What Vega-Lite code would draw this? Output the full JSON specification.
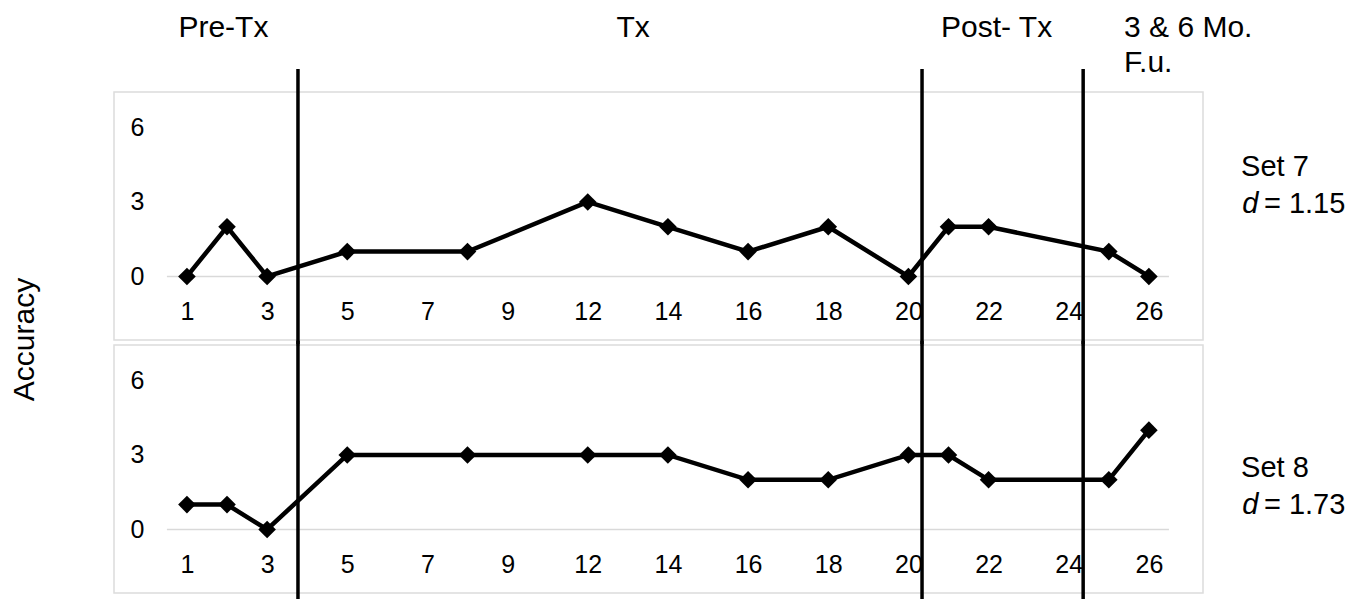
{
  "$schema": "https://vega.github.io/schema/vega-lite/v6.json",
  "background": "white",
  "autosize": {"type": "pad"},
  "padding": {"left": 9, "top": 12, "right": 0, "bottom": 0},
  "spacing": 5,
  "bounds": "flush",
  "config": {
    "font": "Liberation Sans",
    "view": {"stroke": "#dcdcdc", "strokeWidth": 1.5},
    "text": {"font": "Liberation Sans", "color": "#000"}
  },
  "datasets": {
    "accuracy": [
      {"set": "Set 7", "session": 1, "obs": 1, "accuracy": 0},
      {"set": "Set 7", "session": 2, "obs": 2, "accuracy": 2},
      {"set": "Set 7", "session": 3, "obs": 3, "accuracy": 0},
      {"set": "Set 7", "session": 5, "obs": 5, "accuracy": 1},
      {"set": "Set 7", "session": 8, "obs": 8, "accuracy": 1},
      {"set": "Set 7", "session": 12, "obs": 11, "accuracy": 3},
      {"set": "Set 7", "session": 14, "obs": 13, "accuracy": 2},
      {"set": "Set 7", "session": 16, "obs": 15, "accuracy": 1},
      {"set": "Set 7", "session": 18, "obs": 17, "accuracy": 2},
      {"set": "Set 7", "session": 20, "obs": 19, "accuracy": 0},
      {"set": "Set 7", "session": 21, "obs": 20, "accuracy": 2},
      {"set": "Set 7", "session": 22, "obs": 21, "accuracy": 2},
      {"set": "Set 7", "session": 25, "obs": 24, "accuracy": 1},
      {"set": "Set 7", "session": 26, "obs": 25, "accuracy": 0},
      {"set": "Set 8", "session": 1, "obs": 1, "accuracy": 1},
      {"set": "Set 8", "session": 2, "obs": 2, "accuracy": 1},
      {"set": "Set 8", "session": 3, "obs": 3, "accuracy": 0},
      {"set": "Set 8", "session": 5, "obs": 5, "accuracy": 3},
      {"set": "Set 8", "session": 8, "obs": 8, "accuracy": 3},
      {"set": "Set 8", "session": 12, "obs": 11, "accuracy": 3},
      {"set": "Set 8", "session": 14, "obs": 13, "accuracy": 3},
      {"set": "Set 8", "session": 16, "obs": 15, "accuracy": 2},
      {"set": "Set 8", "session": 18, "obs": 17, "accuracy": 2},
      {"set": "Set 8", "session": 20, "obs": 19, "accuracy": 3},
      {"set": "Set 8", "session": 21, "obs": 20, "accuracy": 3},
      {"set": "Set 8", "session": 22, "obs": 21, "accuracy": 2},
      {"set": "Set 8", "session": 25, "obs": 24, "accuracy": 2},
      {"set": "Set 8", "session": 26, "obs": 25, "accuracy": 4}
    ],
    "phaseChanges": [
      {"between": "3 and 5", "obs": 3.77},
      {"between": "20 and 21", "obs": 19.34},
      {"between": "24 and 25", "obs": 23.36}
    ],
    "phaseNames": [
      {"phase": "Pre-Tx", "obs": 1.91},
      {"phase": "Tx", "obs": 12.13},
      {"phase": "Post- Tx", "obs": 21.2}
    ],
    "axisLine": [{"start": 0.5, "end": 25.5, "level": 0}]
  },
  "vconcat": [
    {
      "width": 1089,
      "height": 248,
      "layer": [
        {
          "data": {"name": "axisLine"},
          "mark": {"type": "rule", "color": "#d9d9d9", "strokeWidth": 1.5},
          "encoding": {
            "x": {"field": "start", "type": "quantitative", "title": null, "scale": {"domain": [-0.82, 26.35], "nice": false, "zero": false},
              "axis": {"values": [1, 3, 5, 7, 9, 11, 13, 15, 17, 19, 21, 23, 25], "labelExpr": "datum.value <= 9 ? datum.value : datum.value + 1", "offset": -41, "title": null, "grid": false, "domain": false, "ticks": false, "labelPadding": 0, "labelFontSize": 25, "labelColor": "#000", "labelFont": "Liberation Sans", "labelFlush": false, "labelOverlap": false}},
            "x2": {"field": "end"},
            "y": {"field": "level", "type": "quantitative", "title": null, "scale": {"domain": [-2.56, 7.43], "nice": false, "zero": false},
              "axis": {"values": [0, 3, 6], "offset": -30, "title": null, "grid": false, "domain": false, "ticks": false, "labelPadding": 0, "labelFontSize": 25, "labelColor": "#000", "labelFont": "Liberation Sans"}}
          }
        },
        {
          "data": {"name": "accuracy"},
          "transform": [{"filter": "datum.set === 'Set 7'"}],
          "mark": {"type": "line", "color": "#000", "strokeWidth": 4.5, "point": {"shape": "diamond", "size": 310, "filled": true, "color": "#000", "opacity": 1}},
          "encoding": {
            "x": {"field": "obs", "type": "quantitative", "title": null},
            "y": {"field": "accuracy", "type": "quantitative", "title": null}
          }
        },
        {
          "data": {"name": "phaseChanges"},
          "mark": {"type": "rule", "color": "#000", "strokeWidth": 3.5},
          "encoding": {
            "x": {"field": "obs", "type": "quantitative", "title": null},
            "y": {"datum": 8.36, "type": "quantitative", "title": null},
            "y2": {"datum": -2.8}
          }
        },
        {
          "data": {"name": "phaseNames"},
          "mark": {"type": "text", "fontSize": 30, "align": "center", "baseline": "alphabetic"},
          "encoding": {
            "x": {"field": "obs", "type": "quantitative", "title": null},
            "y": {"datum": 9.63, "type": "quantitative", "title": null},
            "text": {"field": "phase"}
          }
        },
        {
          "data": {"values": [{"phase": ["3 & 6 Mo.", "F.u."]}]},
          "mark": {"type": "text", "fontSize": 30, "align": "left", "baseline": "alphabetic", "lineHeight": 35},
          "encoding": {
            "x": {"datum": 24.38, "type": "quantitative", "title": null},
            "y": {"datum": 9.63, "type": "quantitative", "title": null},
            "text": {"field": "phase"}
          }
        },
        {
          "data": {"values": [{"label": "Accuracy"}]},
          "mark": {"type": "text", "fontSize": 30, "align": "center", "baseline": "alphabetic", "angle": 270},
          "encoding": {
            "x": {"datum": -2.82, "type": "quantitative", "title": null},
            "y": {"datum": -2.54, "type": "quantitative", "title": null},
            "text": {"field": "label"}
          }
        },
        {
          "data": {"values": [{"label": "Set 7"}]},
          "mark": {"type": "text", "fontSize": 29, "align": "left", "baseline": "alphabetic"},
          "encoding": {
            "x": {"datum": 27.3, "type": "quantitative", "title": null},
            "y": {"datum": 4.05, "type": "quantitative", "title": null},
            "text": {"field": "label"}
          }
        },
        {
          "data": {"values": [{"label": "d"}]},
          "mark": {"type": "text", "fontSize": 29, "align": "right", "baseline": "alphabetic", "fontStyle": "italic"},
          "encoding": {
            "x": {"datum": 27.73, "type": "quantitative", "title": null},
            "y": {"datum": 2.57, "type": "quantitative", "title": null},
            "text": {"field": "label"}
          }
        },
        {
          "data": {"values": [{"label": "= 1.15"}]},
          "mark": {"type": "text", "fontSize": 29, "align": "left", "baseline": "alphabetic"},
          "encoding": {
            "x": {"datum": 27.87, "type": "quantitative", "title": null},
            "y": {"datum": 2.57, "type": "quantitative", "title": null},
            "text": {"field": "label"}
          }
        }
      ]
    },
    {
      "width": 1089,
      "height": 248,
      "layer": [
        {
          "data": {"name": "axisLine"},
          "mark": {"type": "rule", "color": "#d9d9d9", "strokeWidth": 1.5},
          "encoding": {
            "x": {"field": "start", "type": "quantitative", "title": null, "scale": {"domain": [-0.82, 26.35], "nice": false, "zero": false},
              "axis": {"values": [1, 3, 5, 7, 9, 11, 13, 15, 17, 19, 21, 23, 25], "labelExpr": "datum.value <= 9 ? datum.value : datum.value + 1", "offset": -41, "title": null, "grid": false, "domain": false, "ticks": false, "labelPadding": 0, "labelFontSize": 25, "labelColor": "#000", "labelFont": "Liberation Sans", "labelFlush": false, "labelOverlap": false}},
            "x2": {"field": "end"},
            "y": {"field": "level", "type": "quantitative", "title": null, "scale": {"domain": [-2.56, 7.43], "nice": false, "zero": false},
              "axis": {"values": [0, 3, 6], "offset": -30, "title": null, "grid": false, "domain": false, "ticks": false, "labelPadding": 0, "labelFontSize": 25, "labelColor": "#000", "labelFont": "Liberation Sans"}}
          }
        },
        {
          "data": {"name": "accuracy"},
          "transform": [{"filter": "datum.set === 'Set 8'"}],
          "mark": {"type": "line", "color": "#000", "strokeWidth": 4.5, "point": {"shape": "diamond", "size": 310, "filled": true, "color": "#000", "opacity": 1}},
          "encoding": {
            "x": {"field": "obs", "type": "quantitative", "title": null},
            "y": {"field": "accuracy", "type": "quantitative", "title": null}
          }
        },
        {
          "data": {"name": "phaseChanges"},
          "mark": {"type": "rule", "color": "#000", "strokeWidth": 3.5},
          "encoding": {
            "x": {"field": "obs", "type": "quantitative", "title": null},
            "y": {"datum": 7.6, "type": "quantitative", "title": null},
            "y2": {"datum": -3.0}
          }
        },
        {
          "data": {"values": [{"label": "Set 8"}]},
          "mark": {"type": "text", "fontSize": 29, "align": "left", "baseline": "alphabetic"},
          "encoding": {
            "x": {"datum": 27.3, "type": "quantitative", "title": null},
            "y": {"datum": 2.11, "type": "quantitative", "title": null},
            "text": {"field": "label"}
          }
        },
        {
          "data": {"values": [{"label": "d"}]},
          "mark": {"type": "text", "fontSize": 29, "align": "right", "baseline": "alphabetic", "fontStyle": "italic"},
          "encoding": {
            "x": {"datum": 27.73, "type": "quantitative", "title": null},
            "y": {"datum": 0.63, "type": "quantitative", "title": null},
            "text": {"field": "label"}
          }
        },
        {
          "data": {"values": [{"label": "= 1.73"}]},
          "mark": {"type": "text", "fontSize": 29, "align": "left", "baseline": "alphabetic"},
          "encoding": {
            "x": {"datum": 27.87, "type": "quantitative", "title": null},
            "y": {"datum": 0.63, "type": "quantitative", "title": null},
            "text": {"field": "label"}
          }
        }
      ]
    }
  ]
}
